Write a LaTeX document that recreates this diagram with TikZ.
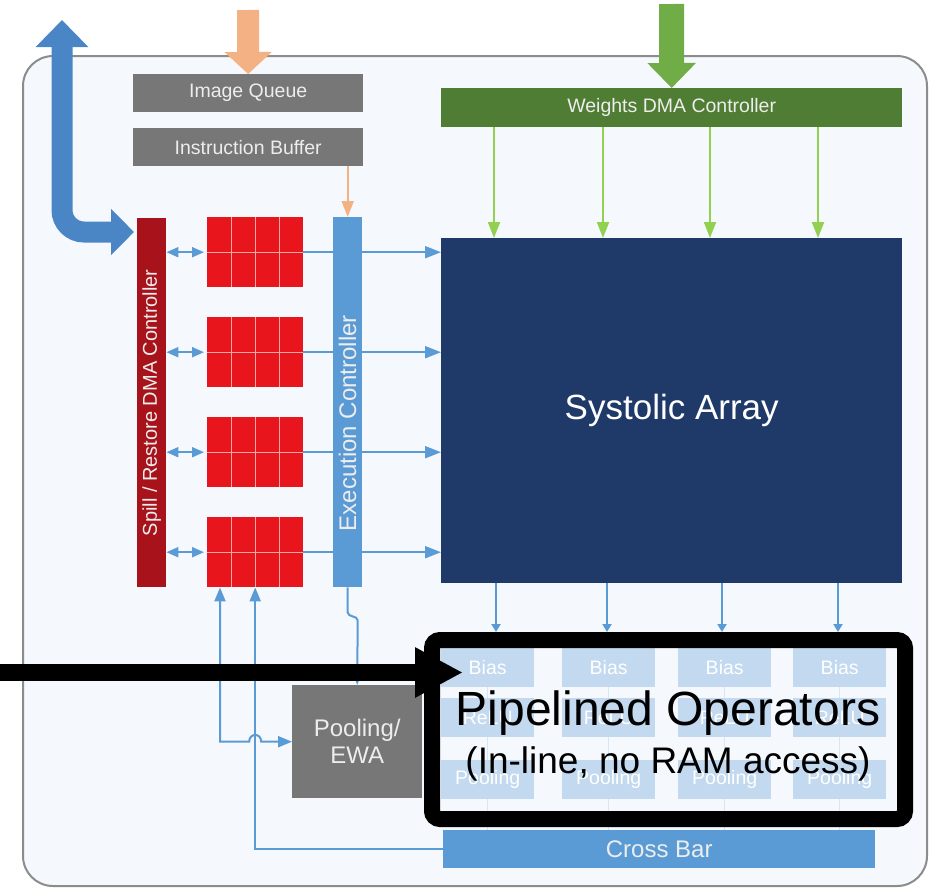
\documentclass[tikz,border=0pt]{standalone}
\usepackage{fontspec}
\setmainfont{Liberation Sans}
\usetikzlibrary{arrows.meta}

\definecolor{chipfill}{HTML}{F5F9FD}
\definecolor{chipline}{HTML}{8C8C8C}
\definecolor{qgrey}{HTML}{777777}
\definecolor{wgreen}{HTML}{4F7D33}
\definecolor{bigorange}{HTML}{F4B183}
\definecolor{biggreen}{HTML}{70AD47}
\definecolor{thingreen}{HTML}{92D050}
\definecolor{bigblue}{HTML}{4A86C5}
\definecolor{flowblue}{HTML}{5B9BD5}
\definecolor{spillred}{HTML}{A8121B}
\definecolor{bufred}{HTML}{E8161C}
\definecolor{bufgrid}{HTML}{F6A8A8}
\definecolor{sysblue}{HTML}{1F3A68}
\definecolor{opblue}{HTML}{C2D9EF}
\definecolor{opline}{HTML}{D8E5F2}
\definecolor{lbltxt}{HTML}{EDEDED}

\newcommand{\lblfont}{\fontsize{19.5}{22}\selectfont}

\begin{document}
\begin{tikzpicture}[x=1pt,y=1pt,yscale=-1,xscale=1,
    box/.style={anchor=north west, inner sep=0pt, text=lbltxt, font=\lblfont},
    redblk/.style={anchor=north west, inner sep=0pt, fill=bufred, minimum width=96, minimum height=70},
    opbox/.style={anchor=north west, inner sep=0pt, fill=opblue, text=white, font=\lblfont, minimum width=93, minimum height=39},
    gridln/.style={draw=bufgrid, line width=1pt},
    flow/.style={draw=flowblue, line width=2pt},
    tip/.style={-{Triangle[length=16pt,width=12pt]}},
    smalltip/.style={-{Triangle[length=8pt,width=9pt]}},
    backtip/.style={{Triangle[length=14pt,width=11pt]}-},
    dbltip/.style={{Triangle[length=12pt,width=10pt]}-{Triangle[length=12pt,width=10pt]}}
]
\useasboundingbox (0,0) rectangle (939,887);

% chip outline
\node[anchor=north west, draw=chipline, fill=chipfill, line width=2pt, rounded corners=30pt, minimum width=904, minimum height=830] (chip) at (22,55) {};

% top blocks
\node[box, fill=qgrey, minimum width=230, minimum height=38] (iq) at (133,74) {Image Queue};
\node[box, fill=qgrey, minimum width=230, minimum height=38] (ib) at (133,128) {Instruction Buffer};
\node[box, fill=wgreen, text=lbltxt, minimum width=461, minimum height=39] (wdma) at (441,88) {Weights DMA Controller};

% controllers
\node[anchor=north west, inner sep=0pt, fill=spillred, minimum width=29, minimum height=369] (spill) at (137,218) {};
\node[rotate=90, text=lbltxt, font=\fontsize{20}{22}\selectfont] (spilltxt) at (spill.center) {Spill / Restore DMA Controller};
\node[anchor=north west, inner sep=0pt, fill=flowblue, minimum width=29, minimum height=370] (exec) at (333,217) {};
\node[rotate=90, text=lbltxt, font=\fontsize{24}{26}\selectfont] (exectxt) at (347.5,423) {Execution Controller};

% systolic array
\node[anchor=north west, inner sep=0pt, fill=sysblue, text=white, font=\fontsize{35}{38}\selectfont, minimum width=461, minimum height=345] (sys) at (441,238) {Systolic Array};

% unified buffers
\foreach \i in {1,...,4} {
  \node[redblk] (blk\i) at (207,{217+100*(\i-1)}) {};
  \foreach \k in {1,2,3}
    \draw[gridln] ([xshift=\k*24pt]blk\i.north west) -- ([xshift=\k*24pt]blk\i.south west);
  \draw[gridln] (blk\i.west) -- (blk\i.east);
  \draw[flow, dbltip, shorten >=3pt] (spill.east |- blk\i.west) -- (blk\i.west);
  \draw[flow] (blk\i.east) -- (blk\i.east -| exec.west);
  \draw[flow, tip] (blk\i.east -| exec.east) -- (blk\i.east -| sys.west);
}

% pooling / ewa and cross bar
\node[box, fill=qgrey, align=center, font=\fontsize{24}{27}\selectfont, minimum width=130, minimum height=113] (ewa) at (292,685) {Pooling/\\EWA};
\node[box, fill=flowblue, font=\fontsize{24}{26}\selectfont, minimum width=432, minimum height=38] (cross) at (443,830) {Cross Bar};

% pipelined operators
\foreach \i/\bx in {1/441,2/562,3/678,4/793} {
  \node[opbox] (bias\i) at (\bx,648) {Bias};
  \node[opbox] (relu\i) at (\bx,698) {ReLU};
  \node[opbox] (poolop\i) at (\bx,760) {Pooling};
  \draw[draw=opline, line width=1.5pt] (bias\i.south) -- (relu\i.north);
  \draw[draw=opline, line width=1.5pt] (relu\i.south) -- (poolop\i.north);
  \draw[draw=opline, line width=1.5pt] (poolop\i.south) -- (poolop\i.south |- cross.north);
}

% weights and instructions
\foreach \dx in {53,162,269,377}
  \draw[draw=thingreen, line width=2pt, tip] ([xshift=\dx pt]wdma.south west) -- ([xshift=\dx pt]sys.north west);
\draw[draw=bigorange, line width=2pt, tip] (ib.south -| exec.north) -- (exec.north);

% systolic outputs
\foreach \dx in {55,166,281,397}
  \draw[flow, smalltip, shorten >=16pt] ([xshift=\dx pt]sys.south west) -- ([xshift=\dx pt]sys.south west |- bias1.north);

% feedback paths
\draw[flow, tip] (exec.south) -- ++(0,25) .. controls +(0,5) and +(0,-5) .. ++(10,8) -- (ewa.north);
\coordinate (lp) at ([xshift=13pt]blk4.south west);
\draw[flow, {Triangle[length=14pt,width=11pt]}-{Triangle[length=14pt,width=11pt]}] (lp) |- ([xshift=-6pt]blk4.south |- ewa.west)
  .. controls +(0,-9) and +(0,-9) .. ([xshift=6pt]blk4.south |- ewa.west) -- (ewa.west);
\draw[flow, backtip] (blk4.south) |- (cross.west);

% external ports
\coordinate (ext) at (62,20);
\coordinate (spillin) at (134,232);
\draw[draw=bigblue, line width=21pt, rounded corners=22pt, {Triangle[length=27pt,width=51pt]}-{Triangle[length=23pt,width=45pt]}] (ext) |- (spillin);
\coordinate (imgin) at (248,10);
\draw[draw=bigorange, line width=22pt, -{Triangle[length=22pt,width=46pt]}] (imgin) -- (iq.north);
\coordinate (wgtin) at (671.5,4);
\draw[draw=biggreen, line width=25pt, -{Triangle[length=25pt,width=47pt]}] (wgtin) -- (wdma.north);

% callout
\node[draw=black, line width=16pt, rounded corners=8pt, inner sep=0pt, minimum width=473, minimum height=179] (ops) at (668.5,729.5) {};
\coordinate (ptr) at (0,672.5);
\coordinate (ptrend) at (463,672.5);
\draw[line width=17pt, -{Triangle[length=48pt,width=47pt]}] (ptr) -- (ptrend);
\node[anchor=base, font=\fontsize{48}{50}\selectfont] (opstitle) at (668,725) {Pipelined Operators};
\node[anchor=base, font=\fontsize{37}{40}\selectfont] (opsnote) at (668,773) {(In-line, no RAM access)};
\end{tikzpicture}
\end{document}
